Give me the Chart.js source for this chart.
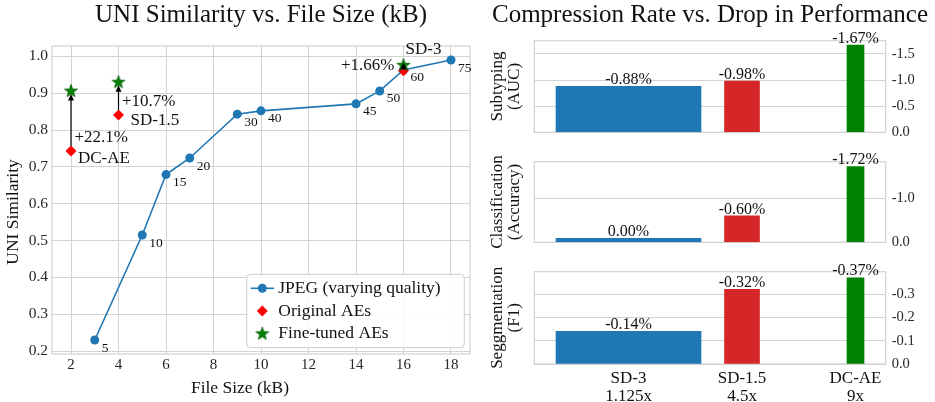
<!DOCTYPE html>
<html><head><meta charset="utf-8">
<script src="https://cdn.jsdelivr.net/npm/chart.js@4.4.1/dist/chart.umd.min.js"></script>
<style>
html,body{margin:0;padding:0;background:#fff;width:935px;height:402px;overflow:hidden;}
canvas{position:absolute;}
#c0{left:0;top:0;width:480px;height:402px;}
#c1{left:485px;top:0;width:450px;height:147px;}
#c2{left:485px;top:147px;width:450px;height:110px;}
#c3{left:485px;top:257px;width:450px;height:145px;}
</style></head><body>
<canvas id="c0" width="480" height="402"></canvas>
<canvas id="c1" width="450" height="147"></canvas>
<canvas id="c2" width="450" height="110"></canvas>
<canvas id="c3" width="450" height="145"></canvas>
<script>
// ---------- data ----------
const jpegFileSize   = [3, 5, 6, 7, 9, 10, 14, 15, 16, 18];
const jpegSimilarity = [0.23, 0.515, 0.679, 0.724, 0.843, 0.852, 0.871, 0.906, 0.963, 0.99];
const jpegQuality    = ["5", "10", "15", "20", "30", "40", "45", "50", "60", "75"];
const aeNames     = ["DC-AE", "SD-1.5", "SD-3"];
const aeFileSize  = [2, 4, 16];
const aeOriginal  = [0.743, 0.841, 0.961];
const aeFinetuned = [0.907, 0.931, 0.977];
const aeGain      = ["+22.1%", "+10.7%", "+1.66%"];

const barModels        = ["SD-3", "SD-1.5", "DC-AE"];
const compressionRates = ["1.125x", "4.5x", "9x"];
const subtypingDrop      = [-0.88, -0.98, -1.67];
const classificationDrop = [0.00, -0.60, -1.72];
const segmentationDrop   = [-0.14, -0.32, -0.37];
const panelLabels = [["Subtyping", "(AUC)"], ["Classification", "(Accuracy)"], ["Seggmentation", "(F1)"]];

// ---------- style ----------
const FONT = '"Liberation Serif", "Times New Roman", serif';
const GRID = '#d3d3d3';
const TXT = '#111';
const barColors = ['#1f77b4', '#d62728', '#008000'];
const barWidths = [145, 35, 17];
Chart.defaults.font.family = FONT;
Chart.defaults.color = '#262626';
const F = (size, lineHeight) => ({family: FONT, size, weight: 'normal', lineHeight: lineHeight || 1.2});

function drawFrame(chart) {
  const {ctx, chartArea: a} = chart;
  ctx.save();
  ctx.strokeStyle = GRID; ctx.lineWidth = 1.2;
  ctx.strokeRect(a.left, a.top, a.right - a.left, a.bottom - a.top);
  ctx.restore();
}

// star marker (matplotlib style)
const starImg = (() => {
  const c = document.createElement('canvas'); c.width = 16; c.height = 16;
  const g = c.getContext('2d');
  g.beginPath();
  for (let k = 0; k < 10; k++) {
    const r = k % 2 === 0 ? 6.8 : 2.7;
    const a = -Math.PI / 2 + k * Math.PI / 5;
    const px = 8 + r * Math.cos(a), py = 8.6 + r * Math.sin(a);
    if (k) g.lineTo(px, py); else g.moveTo(px, py);
  }
  g.closePath(); g.fillStyle = '#008000'; g.fill();
  g.lineWidth = 0.8; g.strokeStyle = '#005a00'; g.stroke();
  return c;
})();

// ---------- left chart ----------
const nameOff = [[7, 8, 'left'], [12, 6, 'left'], [2, -21, 'left']];
const gainOff = [[3.5, -13, 'left'], [3.5, -13, 'left'], [-9, -5, 'right']];

const leftPlugin = {
  id: 'leftDecor',
  beforeDatasetsDraw(chart) { drawFrame(chart); },
  afterDatasetsDraw(chart) {
    const {ctx, scales: {x, y}} = chart;
    ctx.save();
    aeFileSize.forEach((fs, i) => {
      const px = x.getPixelForValue(fs);
      const ry = y.getPixelForValue(aeOriginal[i]);
      const gy = y.getPixelForValue(aeFinetuned[i]);
      const long = (ry - gy) > 15;
      const tip = long ? gy + 3.5 : gy - 2;
      ctx.strokeStyle = '#000'; ctx.fillStyle = '#000'; ctx.lineWidth = 1.2;
      if (long) {
        ctx.beginPath(); ctx.moveTo(px, ry - 5); ctx.lineTo(px, tip + 5); ctx.stroke();
      }
      ctx.beginPath(); ctx.moveTo(px, tip); ctx.lineTo(px - 3, tip + 6.5); ctx.lineTo(px + 3, tip + 6.5);
      ctx.closePath(); ctx.fill();
    });
    ctx.font = '17px ' + FONT; ctx.fillStyle = TXT; ctx.textBaseline = 'middle';
    aeFileSize.forEach((fs, i) => {
      const px = x.getPixelForValue(fs);
      const ry = y.getPixelForValue(aeOriginal[i]);
      ctx.textAlign = nameOff[i][2];
      ctx.fillText(aeNames[i], px + nameOff[i][0], ry + nameOff[i][1]);
      ctx.textAlign = gainOff[i][2];
      ctx.fillText(aeGain[i], px + gainOff[i][0], ry + gainOff[i][1]);
    });
    ctx.font = '13.5px ' + FONT; ctx.textAlign = 'left';
    jpegFileSize.forEach((fs, i) => {
      ctx.fillText(jpegQuality[i], x.getPixelForValue(fs) + 7, y.getPixelForValue(jpegSimilarity[i]) + 8);
    });
    ctx.font = '17.5px ' + FONT; ctx.textAlign = 'center';
    ctx.fillText('File Size (kB)', 240, 388);
    ctx.save(); ctx.translate(13, 212); ctx.rotate(-Math.PI / 2);
    ctx.fillText('UNI Similarity', 0, 0); ctx.restore();
    ctx.restore();
  },
  afterDraw(chart) {
    const {ctx, chartArea: a} = chart;
    const ds = chart.data.datasets;
    const L = a.left + 194.7, R = a.right - 5.7, T = a.bottom - 79.7, B = a.bottom - 6.3;
    ctx.save();
    ctx.beginPath();
    if (ctx.roundRect) ctx.roundRect(L, T, R - L, B - T, 4); else ctx.rect(L, T, R - L, B - T);
    ctx.fillStyle = 'rgba(255,255,255,0.85)'; ctx.fill();
    ctx.strokeStyle = '#cccccc'; ctx.lineWidth = 1; ctx.stroke();
    ctx.font = '17.5px ' + FONT; ctx.fillStyle = TXT; ctx.textAlign = 'left'; ctx.textBaseline = 'middle';
    ds.forEach((d, i) => {
      const cy = T + 14 + i * 22.8;
      const mx = L + 15.6;
      if (i === 0) {
        ctx.strokeStyle = d.borderColor; ctx.lineWidth = 1.6;
        ctx.beginPath(); ctx.moveTo(L + 4, cy); ctx.lineTo(L + 27.3, cy); ctx.stroke();
        ctx.fillStyle = d.borderColor; ctx.beginPath(); ctx.arc(mx, cy, 4.5, 0, Math.PI * 2); ctx.fill();
      } else if (i === 1) {
        ctx.fillStyle = d.backgroundColor; ctx.beginPath();
        ctx.moveTo(mx - 5.5, cy); ctx.lineTo(mx, cy - 5.5); ctx.lineTo(mx + 5.5, cy); ctx.lineTo(mx, cy + 5.5);
        ctx.closePath(); ctx.fill();
      } else {
        ctx.drawImage(starImg, mx - 8, cy - 8.6);
      }
      ctx.fillStyle = TXT;
      ctx.fillText(d.label, L + 31.6, cy);
    });
    ctx.restore();
  }
};

new Chart(document.getElementById('c0'), {
  type: 'scatter',
  data: {
    datasets: [
      { label: 'JPEG (varying quality)', data: jpegFileSize.map((v, i) => ({x: v, y: jpegSimilarity[i]})),
        showLine: true, borderColor: '#1f77b4', backgroundColor: '#1f77b4', borderWidth: 1.6,
        pointRadius: 4.5, pointBorderWidth: 0, pointBackgroundColor: '#1f77b4', pointBorderColor: '#1f77b4', order: 3 },
      { label: 'Original AEs', data: aeFileSize.map((v, i) => ({x: v, y: aeOriginal[i]})),
        pointStyle: 'rectRot', pointRadius: 5.5, pointBorderWidth: 0, backgroundColor: '#ff0000', borderColor: '#ff0000', order: 2 },
      { label: 'Fine-tuned AEs', data: aeFileSize.map((v, i) => ({x: v, y: aeFinetuned[i]})),
        pointStyle: starImg, pointRadius: 7, backgroundColor: '#008000', borderColor: '#008000', order: 1 }
    ]
  },
  options: {
    responsive: false, animation: false, events: [],
    layout: {padding: {left: 0, right: 10, top: 0, bottom: 0}},
    plugins: {
      legend: {display: false}, tooltip: {enabled: false},
      title: {display: true, fullSize: false, text: 'UNI Similarity vs. File Size (kB)', color: TXT,
              font: F(25, 1.1), padding: {top: 2, bottom: 16.5}}
    },
    scales: {
      x: { type: 'linear', min: 1.2, max: 18.8,
           ticks: {stepSize: 2, includeBounds: false, padding: 2, font: F(15), color: '#262626'},
           grid: {color: GRID, lineWidth: 1, drawTicks: false}, border: {display: false},
           afterFit: s => { s.height = 48; } },
      y: { type: 'linear', min: 0.192, max: 1.028,
           ticks: {stepSize: 0.1, includeBounds: false, padding: 4, font: F(15.5), color: '#262626',
                   callback: v => v.toFixed(1)},
           grid: {color: GRID, lineWidth: 1, drawTicks: false}, border: {display: false},
           afterFit: s => { s.width = 52; } }
    }
  },
  plugins: [leftPlugin]
});

// ---------- right panels ----------
function makeBarPlugin(values) {
  return {
    id: 'barDecor',
    beforeDatasetsDraw(chart) { drawFrame(chart); },
    afterDatasetsDraw(chart) {
      const ctx = chart.ctx;
      ctx.save();
      ctx.font = '16px ' + FONT; ctx.fillStyle = TXT; ctx.textAlign = 'center'; ctx.textBaseline = 'bottom';
      values.forEach((v, i) => {
        const el = chart.getDatasetMeta(i).data[0];
        ctx.fillText(v.toFixed(2) + '%', el.x, el.y + 1.5);
      });
      ctx.restore();
    }
  };
}

function barPanel(id, values, yMax, yStep, yLabel, opts) {
  return new Chart(document.getElementById(id), {
    type: 'bar',
    data: {
      datasets: values.map((v, i) => ({
        label: barModels[i], data: [{x: i, y: -v}],
        backgroundColor: barColors[i], borderWidth: 0, barThickness: barWidths[i],
        grouped: false, minBarLength: 4, xAxisID: 'x', yAxisID: 'y'
      }))
    },
    options: {
      responsive: false, animation: false, events: [],
      layout: {padding: opts.padding},
      plugins: {
        legend: {display: false}, tooltip: {enabled: false},
        title: opts.title ? {display: true, text: opts.title, color: TXT, fullSize: true,
                font: F(25, 1.1), padding: {top: 2, bottom: 11.2}} : {display: false}
      },
      scales: {
        x: { type: 'linear', min: -0.83, max: 2.266, offset: false, display: !!opts.showX,
             grid: {display: false, drawTicks: false}, border: {display: false},
             afterBuildTicks: s => { s.ticks = barModels.map((_, i) => ({value: i})); },
             ticks: {autoSkip: false, maxRotation: 0, padding: 5, color: TXT,
                     font: F(17, 1.08),
                     callback: v => [barModels[v], compressionRates[v]]},
             afterFit: s => { if (opts.showX) s.height = 38; } },
        y: { type: 'linear', position: 'right', min: 0, max: yMax,
             ticks: {stepSize: yStep, includeBounds: false, crossAlign: 'near', padding: 6,
                     font: F(14.5), color: '#262626',
                     callback: v => v === 0 ? '0.0' : '-' + v.toFixed(1)},
             grid: {color: GRID, lineWidth: 1, drawTicks: false}, border: {display: false},
             afterFit: s => { s.width = 49.3; } },
        yl: { type: 'linear', position: 'left',
              ticks: {display: false}, grid: {display: false, drawTicks: false}, border: {display: false},
              title: {display: true, text: yLabel, color: TXT, font: F(17, 1.03),
                      padding: {top: 3.75, bottom: 0}},
              afterFit: s => { s.width = 49.3; } }
      }
    },
    plugins: [makeBarPlugin(values)]
  });
}

barPanel('c1', subtypingDrop, 1.752, 0.5, panelLabels[0],
  {padding: {left: 0, right: 0, top: 0, bottom: 11.3}, title: 'Compression Rate vs. Drop in Performance'});
barPanel('c2', classificationDrop, 1.83, 1.0, panelLabels[1],
  {padding: {left: 0, right: 0, top: 11.3, bottom: 12.7}});
barPanel('c3', segmentationDrop, 0.396, 0.1, panelLabels[2],
  {padding: {left: 0, right: 0, top: 12.3, bottom: 0}, showX: true});
</script>
</body></html>
